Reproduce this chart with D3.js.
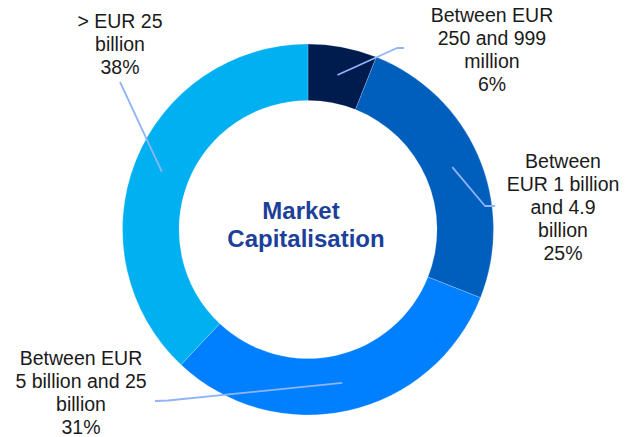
<!DOCTYPE html>
<html>
<head>
<meta charset="utf-8">
<script src="https://cdn.jsdelivr.net/npm/d3@7"></script>
<style>
  html, body { margin: 0; padding: 0; background: #fff; }
  svg { display: block; }
</style>
</head>
<body>
<svg id="chart" width="635" height="437"></svg>
<script>
// ---- Data ----
const categories = [
  "Between EUR 250 and 999 million",
  "Between EUR 1 billion and 4.9 billion",
  "Between EUR 5 billion and 25 billion",
  "> EUR 25 billion"
];
const values = [6, 25, 31, 38];
const labelLines = [
  ["Between EUR", "250 and 999", "million", "6%"],
  ["Between", "EUR 1 billion", "and 4.9", "billion", "25%"],
  ["Between EUR", "5 billion and 25", "billion", "31%"],
  ["> EUR 25", "billion", "38%"]
];
const centerTitle = ["Market", "Capitalisation"];

// ---- Layout / styles ----
const colors = ["#001B4E", "#005EBD", "#0080FF", "#00B0F0"];
const cx = 308, cy = 229.5, outerR = 185.5, innerR = 129;
// label anchor (text center x, first baseline y) and leader polyline end points
const labelPos = [
  {x: 492, y: 22, pts: [[397, 48], [404, 48]]},
  {x: 563, y: 168, pts: [[485, 206], [495, 206]]},
  {x: 81,  y: 365, pts: [[168, 400.5], [155, 401]]},
  {x: 120, y: 28,  pts: [[120, 82]]}
];
const lineH = 23;
const fontFamily = "'Liberation Sans', Arial, sans-serif";

const svg = d3.select("#chart");
const g = svg.append("g").attr("transform", `translate(${cx},${cy})`);

const pie = d3.pie().sort(null).value(d => d);
const arc = d3.arc().innerRadius(innerR).outerRadius(outerR);
const arcs = pie(values);

g.selectAll("path.slice")
  .data(arcs)
  .join("path")
  .attr("class", "slice")
  .attr("d", arc)
  .attr("fill", (d, i) => colors[i])
  .attr("stroke", "rgba(255,255,255,0.35)")
  .attr("stroke-width", 0.6);

// leader lines
const line = d3.line();
arcs.forEach((d, i) => {
  const c = arc.centroid(d);
  const start = [cx + c[0], cy + c[1]];
  svg.append("path")
    .attr("d", line([start, ...labelPos[i].pts]))
    .attr("fill", "none")
    .attr("stroke", "#8FB4F7")
    .attr("stroke-width", 1.8)
    .attr("stroke-linejoin", "round");
});

// labels
labelLines.forEach((lines, i) => {
  const t = svg.append("text")
    .attr("font-family", fontFamily)
    .attr("font-size", 19.5)
    .attr("fill", "#1a1a1a")
    .attr("text-anchor", "middle");
  lines.forEach((s, k) => {
    t.append("tspan")
      .attr("x", labelPos[i].x)
      .attr("y", labelPos[i].y + k * lineH)
      .text(s);
  });
});

// center title
const title = svg.append("text")
  .attr("font-family", fontFamily)
  .attr("font-size", 24)
  .attr("font-weight", "bold")
  .attr("fill", "#1C3F99")
  .attr("text-anchor", "middle");
centerTitle.forEach((s, k) => {
  title.append("tspan")
    .attr("x", k === 0 ? 301 : 306)
    .attr("y", 219 + k * 28)
    .text(s);
});
</script>
</body>
</html>
